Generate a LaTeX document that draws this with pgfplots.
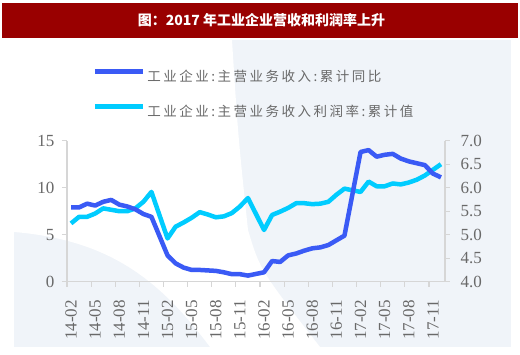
\documentclass[border=0pt]{standalone}
\usepackage{fontspec}
\setmainfont{Liberation Serif}
\newfontfamily\cjk{Noto Sans CJK SC}
\newfontfamily\cjkleg{Noto Sans CJK SC}[LetterSpace=18.5]
\usepackage{pgfplots}
\pgfplotsset{compat=1.18}
\definecolor{titlered}{RGB}{153,0,0}
\definecolor{panel}{RGB}{240,244,249}
\definecolor{lineblue}{RGB}{58,90,245}
\definecolor{linecyan}{RGB}{0,204,255}
\definecolor{axisgray}{RGB}{214,214,214}
\definecolor{textgray}{RGB}{105,105,105}

\pgfplotstableread{
x y
0 7.9
1 7.9
2 8.3
3 8.1
4 8.5
5 8.7
6 8.2
7 8.0
8 7.7
9 7.2
10 6.9
12 2.8
13 1.95
14 1.5
15 1.25
16 1.25
17 1.2
18 1.15
19 1.0
20 0.8
21 0.8
22 0.65
24 1.0
25 2.2
26 2.1
27 2.8
28 3.0
29 3.3
30 3.55
31 3.65
32 3.9
33 4.4
34 4.9
36 13.8
37 14.0
38 13.3
39 13.5
40 13.6
41 13.1
42 12.8
43 12.6
44 12.4
45 11.5
46 11.1
}\revenue

\pgfplotstableread{
x y
0 5.24
1 5.38
2 5.38
3 5.45
4 5.56
5 5.53
6 5.50
7 5.50
8 5.56
9 5.70
10 5.91
12 4.92
13 5.17
14 5.26
15 5.36
16 5.48
17 5.43
18 5.37
19 5.39
20 5.46
21 5.60
22 5.78
24 5.10
25 5.42
26 5.49
27 5.57
28 5.67
29 5.67
30 5.65
31 5.66
32 5.70
33 5.85
34 5.98
36 5.91
37 6.13
38 6.03
39 6.03
40 6.09
41 6.07
42 6.11
43 6.17
44 6.26
45 6.38
46 6.50
}\margin

\begin{document}
\begin{tikzpicture}[x=1pt,y=1pt]
\path[use as bounding box] (0,0) rectangle (520,355);
% decorative background
\fill[panel] (14,8) rectangle (511,315);
\fill[white] (14,315) -- (232,315) .. controls (238,220) .. (248,125)
  .. controls (260,85) .. (320,8) -- (210,8)
  .. controls (160,75) and (110,115) .. (14,123) -- cycle;
% title bar
\fill[titlered] (2,317) rectangle (518,352);
\node[text=white, font=\cjk\bfseries\fontsize{14}{16}\selectfont] at (261.5,334.7) {图：2017 年工业企业营收和利润率上升};

% right axis: profit margin
\begin{axis}[
  at={(67pt,73.3pt)}, anchor=south west,
  scale only axis, width=378pt, height=141pt,
  xmin=-0.5, xmax=46.5, ymin=4, ymax=7,
  axis x line=none, axis y line*=right,
  ytick={4,4.5,5,5.5,6,6.5,7},
  tick align=outside, major tick length=5pt,
  tick style={axisgray, line width=1.2pt},
  axis line style={axisgray, line width=1.6pt, -},
  /pgf/number format/assume math mode=true,
  yticklabel style={font=\fontsize{17}{20}\selectfont, text=textgray,
    /pgf/number format/fixed, /pgf/number format/fixed zerofill,
    /pgf/number format/precision=1},
  yticklabel shift=7pt,
]
\addplot[linecyan, line width=4.5pt, line join=round] table[x=x,y=y] {\margin};
\end{axis}

% left axis: revenue growth
\begin{axis}[
  at={(67pt,73.3pt)}, anchor=south west,
  scale only axis, width=378pt, height=141pt,
  xmin=-0.5, xmax=46.5, ymin=0, ymax=15,
  axis x line*=bottom, axis y line*=left,
  ytick={0,5,10,15},
  xtick={-0.5,2.5,...,44.5}, xticklabels={},
  extra x ticks={0,3,...,45},
  extra x tick labels={14-02,14-05,14-08,14-11,15-02,15-05,15-08,15-11,16-02,16-05,16-08,16-11,17-02,17-05,17-08,17-11},
  extra x tick style={major tick length=0pt},
  tick align=outside, major tick length=5pt,
  tick style={axisgray, line width=1.2pt},
  axis line style={axisgray, line width=1.6pt, -},
  /pgf/number format/assume math mode=true,
  yticklabel style={font=\fontsize{17}{20}\selectfont, text=textgray},
  yticklabel shift=4pt,
  xticklabel style={font=\fontsize{17}{20}\selectfont, text=textgray, rotate=90, anchor=east},
  xticklabel shift=15pt,
  legend style={at={(0.067,1.511)}, anchor=north west, draw=none, fill=none,
    font=\cjkleg\fontsize{13.5}{16}\selectfont, text=textgray,
    inner sep=0pt, outer sep=0pt, row sep=21.5pt,
    nodes={inner sep=0pt},
    /tikz/every odd column/.append style={column sep=2pt}},
  legend cell align=left,
  legend image code/.code={\draw[#1, line width=5pt] (0pt,5pt) -- (48pt,5pt);},
]
\addplot[lineblue, line width=4.5pt, line join=round] table[x=x,y=y] {\revenue};
\addlegendentry{工业企业:主营业务收入:累计同比}
\addlegendimage{linecyan}
\addlegendentry{工业企业:主营业务收入利润率:累计值}
\end{axis}
\end{tikzpicture}
\end{document}
